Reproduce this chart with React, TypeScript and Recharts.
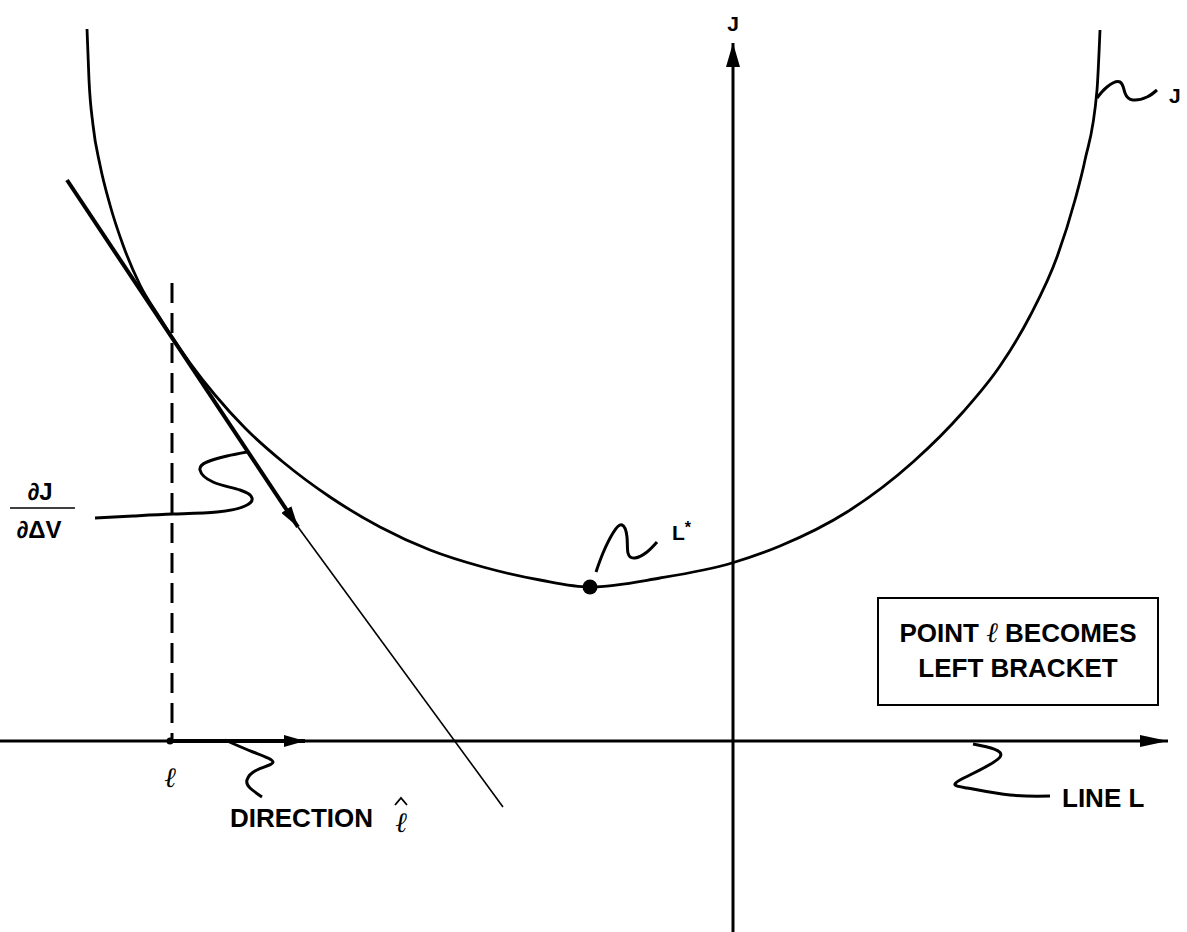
import React from "react";
import { ComposedChart, Line, Scatter, XAxis, YAxis, ReferenceArea } from "recharts";

// origin = where the J axis meets line L; 1 unit ~ 1px
const curveJ = [
  { x: -646, y: 712 }, { x: -644, y: 661 }, { x: -640, y: 616 }, { x: -633, y: 576 },
  { x: -623, y: 536 }, { x: -610, y: 496 }, { x: -593, y: 456 }, { x: -573, y: 423 },
  { x: -561, y: 404 }, { x: -543, y: 378 }, { x: -518, y: 346 }, { x: -488, y: 313 },
  { x: -450, y: 279 }, { x: -403, y: 244 }, { x: -353, y: 214 }, { x: -303, y: 191 },
  { x: -250, y: 174 }, { x: -193, y: 161 }, { x: -143, y: 154 }, { x: -73, y: 163 },
  { x: -1, y: 178 }, { x: 47, y: 195 }, { x: 114, y: 229 }, { x: 180, y: 279 },
  { x: 230, y: 329 }, { x: 267, y: 375 }, { x: 297, y: 425 }, { x: 324, y: 484 },
  { x: 342, y: 541 }, { x: 352, y: 581 }, { x: 364, y: 651 }, { x: 367, y: 711 },
];

const tangentThick = [{ x: -666, y: 561 }, { x: -435, y: 214 }];
const tangentThin = [{ x: -435, y: 214 }, { x: -230, y: -66 }];
const dashedGuide = [{ x: -561, y: 458 }, { x: -561, y: 0 }];
const directionArrow = [{ x: -563, y: 0 }, { x: -428, y: 0 }];
const axisJ = [{ x: 0, y: -191 }, { x: 0, y: 698 }];
const lineL = [{ x: -733, y: 0 }, { x: 435, y: 0 }];
const fractionBar = [{ x: -723, y: 233 }, { x: -658, y: 233 }];
const hatMark = [{ x: -338, y: -64 }, { x: -332, y: -57 }, { x: -326, y: -64 }];

const leaderDJ = [
  { x: -638, y: 223 }, { x: -600, y: 225 }, { x: -560, y: 227 }, { x: -516, y: 229 },
  { x: -488, y: 235 }, { x: -481, y: 243 }, { x: -493, y: 251 }, { x: -520, y: 259 },
  { x: -533, y: 271 }, { x: -526, y: 279 }, { x: -506, y: 285 }, { x: -486, y: 289 },
];
const leaderLStar = [
  { x: -137, y: 169 }, { x: -130, y: 188 }, { x: -120, y: 208 }, { x: -111, y: 216 },
  { x: -106, y: 204 }, { x: -105, y: 188 }, { x: -98, y: 183 }, { x: -86, y: 189 },
  { x: -76, y: 199 },
];
const leaderJ = [
  { x: 364, y: 643 }, { x: 374, y: 654 }, { x: 387, y: 659 }, { x: 392, y: 648 },
  { x: 400, y: 641 }, { x: 414, y: 644 }, { x: 424, y: 651 },
];
const leaderDirection = [
  { x: -508, y: 1 }, { x: -480, y: -11 }, { x: -460, y: -21 }, { x: -476, y: -29 },
  { x: -486, y: -39 }, { x: -483, y: -47 }, { x: -471, y: -56 },
];
const leaderLineL = [
  { x: 240, y: -3 }, { x: 267, y: -16 }, { x: 227, y: -39 }, { x: 234, y: -47 },
  { x: 277, y: -54 }, { x: 317, y: -55 },
];

const pointLStar = [{ x: -143, y: 154 }];
const pointEll = [{ x: -563, y: 0 }];

const labels = [
  { x: 0, y: 710, text: "J", kind: "small" },
  { x: 436, y: 638, text: "J", kind: "smallStart" },
  { x: -61, y: 201, text: "L*", kind: "smallStart" },
  { x: -693, y: 241, text: "∂J", kind: "frac" },
  { x: -694, y: 203, text: "∂ΔV", kind: "frac" },
  { x: -563, y: -46, text: "ℓ", kind: "script" },
  { x: -503, y: -86, text: "DIRECTION", kind: "bigStart" },
  { x: -332, y: -91, text: "ℓ", kind: "script" },
  { x: 285, y: 99, text: "POINT ℓ BECOMES", kind: "big" },
  { x: 285, y: 64, text: "LEFT BRACKET", kind: "big" },
  { x: 329, y: -66, text: "LINE L", kind: "bigStart" },
];

const sans = "'Liberation Sans', Arial, Helvetica, sans-serif";
const scriptFont = "'DejaVu Serif', serif";
const labelStyles: Record<string, any> = {
  small: { size: 21, anchor: "middle", weight: 700, family: sans },
  smallStart: { size: 21, anchor: "start", weight: 700, family: sans },
  frac: { size: 24, anchor: "middle", weight: 700, family: sans },
  script: { size: 28, anchor: "middle", weight: 400, family: scriptFont, style: "italic" },
  big: { size: 26, anchor: "middle", weight: 700, family: sans },
  bigStart: { size: 26, anchor: "start", weight: 700, family: sans },
};

const renderText = (text: string) => {
  if (text.includes("*")) {
    const [a] = text.split("*");
    return [a, <tspan key="s" fontSize={16} dy={-7}>*</tspan>];
  }
  if (text.length > 1 && text.includes("ℓ")) {
    const parts = text.split("ℓ");
    return [
      parts[0],
      <tspan key="l" fontFamily={scriptFont} fontStyle="italic" fontWeight={400} fontSize={28}>ℓ</tspan>,
      parts[1],
    ];
  }
  return text;
};

const renderLabel = (props: any) => {
  const { cx, cy, payload } = props;
  const s = labelStyles[payload.kind];
  return (
    <text x={cx} y={cy} textAnchor={s.anchor} fontSize={s.size} fontWeight={s.weight}
      fontFamily={s.family} fontStyle={s.style || "normal"} fill="#000">
      {renderText(payload.text)}
    </text>
  );
};

const dotShape = (r: number) => (props: any) => <circle cx={props.cx} cy={props.cy} r={r} fill="#000" />;

const seg = { dot: false, activeDot: false, isAnimationActive: false, stroke: "#000", dataKey: "y" } as const;

export default function App() {
  return (
    <div style={{ position: "absolute", left: 0, top: 0, width: 1187, height: 932, background: "#fff" }}>
      <ComposedChart width={1187} height={932} margin={{ top: 0, right: 0, bottom: 0, left: 0 }}>
        <defs>
          <marker id="arrJ" viewBox="0 0 24 14" refX={24} refY={7} markerWidth={24} markerHeight={14}
            markerUnits="userSpaceOnUse" orient="auto">
            <path d="M0,0 L24,7 L0,14 Z" fill="#000" />
          </marker>
          <marker id="arrL" viewBox="0 0 28 12" refX={28} refY={6} markerWidth={28} markerHeight={12}
            markerUnits="userSpaceOnUse" orient="auto">
            <path d="M0,0 L28,6 L0,12 Z" fill="#000" />
          </marker>
          <marker id="arrS" viewBox="0 0 21 12" refX={21} refY={6} markerWidth={21} markerHeight={12}
            markerUnits="userSpaceOnUse" orient="auto">
            <path d="M0,0 L21,6 L0,12 Z" fill="#000" />
          </marker>
        </defs>
        <XAxis type="number" dataKey="x" domain={[-733, 454]} allowDataOverflow hide />
        <YAxis type="number" dataKey="y" domain={[-191, 741]} allowDataOverflow hide />
        <ReferenceArea x1={145} x2={425} y1={36} y2={143} fill="none" fillOpacity={0} stroke="#000" strokeWidth={2} ifOverflow="visible" />
        <Line {...seg} data={axisJ} type="linear" strokeWidth={3} markerEnd="url(#arrJ)" />
        <Line {...seg} data={lineL} type="linear" strokeWidth={3} markerEnd="url(#arrL)" />
        <Line {...seg} data={dashedGuide} type="linear" strokeWidth={3} strokeDasharray="20 10" />
        <Line {...seg} data={curveJ} type="monotone" strokeWidth={2.8} />
        <Line {...seg} data={tangentThick} type="linear" strokeWidth={4} markerEnd="url(#arrS)" />
        <Line {...seg} data={tangentThin} type="linear" strokeWidth={1.6} />
        <Line {...seg} data={directionArrow} type="linear" strokeWidth={4} markerEnd="url(#arrS)" />
        <Line {...seg} data={fractionBar} type="linear" strokeWidth={1.5} />
        <Line {...seg} data={hatMark} type="linear" strokeWidth={1.8} />
        <Line {...seg} data={leaderDJ} type="natural" strokeWidth={3} />
        <Line {...seg} data={leaderLStar} type="natural" strokeWidth={3} />
        <Line {...seg} data={leaderJ} type="natural" strokeWidth={3} />
        <Line {...seg} data={leaderDirection} type="natural" strokeWidth={3} />
        <Line {...seg} data={leaderLineL} type="natural" strokeWidth={3} />
        <Scatter data={pointLStar} shape={dotShape(7.5)} isAnimationActive={false} />
        <Scatter data={pointEll} shape={dotShape(3.5)} isAnimationActive={false} />
        <Scatter data={labels} shape={renderLabel} isAnimationActive={false} />
      </ComposedChart>
    </div>
  );
}
